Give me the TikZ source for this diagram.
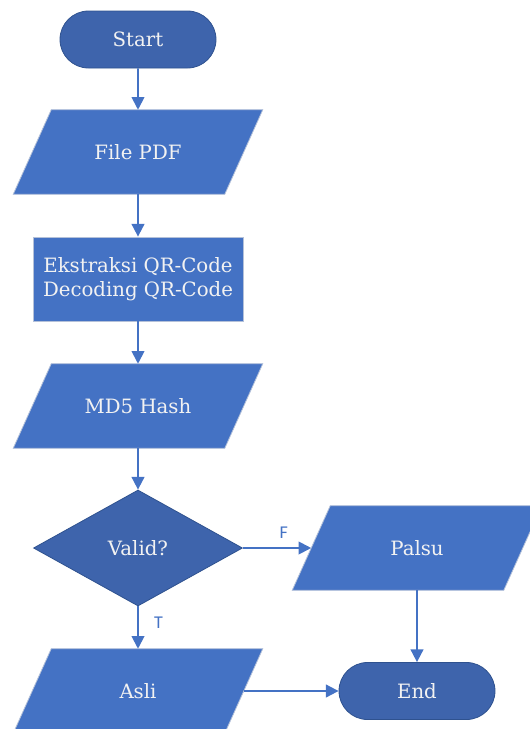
\documentclass[tikz,border=0pt]{standalone}
\usepackage{fontspec}
\setmainfont{DejaVu Serif}
\newfontfamily\labelfont{Carlito}
\usepackage{xcolor}
\usepackage{tikz}
\usetikzlibrary{shapes.geometric, shapes.misc, arrows.meta, backgrounds}

\definecolor{boxblue}{HTML}{4472C4}
\definecolor{termblue}{HTML}{3E64AC}
\definecolor{termline}{HTML}{2F528F}
\definecolor{boxline}{HTML}{B4C1D9}
\definecolor{boxtext}{HTML}{F2F2F2}

\begin{document}
\begin{tikzpicture}[x=0.75pt, y=-0.75pt, text=boxtext, font=\fontsize{14.8}{18}\selectfont,
		terminal/.style={rounded rectangle, draw=termline, fill=termblue, line width=0.6pt, minimum width=117pt, minimum height=42.75pt, inner sep=0pt},
		io/.style={rectangle, minimum width=158.25pt, minimum height=63pt, inner sep=0pt},
		iobox/.style={draw=boxline, fill=boxblue, line width=0.6pt},
		process/.style={rectangle, draw=boxline, fill=boxblue, line width=0.6pt, minimum width=157.5pt, minimum height=63pt, inner sep=0pt, align=center},
		decision/.style={diamond, draw=termline, fill=termblue, line width=0.6pt, minimum width=156.75pt, minimum height=87pt, inner sep=0pt},
		flow/.style={draw=boxblue, line width=1.4pt, -{Triangle[length=9.5pt, width=9.5pt]}},
		branch/.style={text=boxblue, font=\labelfont\fontsize{13.5}{15}\selectfont}]
	\useasboundingbox (0,0) rectangle (529,729);
	\node[terminal] (start) at (138,39.5) {Start};
	\node[io] (file) at (138,152) {File PDF};
	\node[process] (extract) at (138,279) {Ekstraksi QR-Code\\Decoding QR-Code};
	\node[io] (hash) at (138,406) {MD5 Hash};
	\node[decision] (valid) at (138,548) {Valid?};
	\node[io] (palsu) at (417,548) {Palsu};
	\node[io] (asli) at (138,691) {Asli};
	\node[terminal] (end) at (417,691) {End};
	% jajaran genjang input/output
	\begin{scope}[on background layer]
		\foreach \n in {file, hash, palsu, asli}
			\draw[iobox] ([xshift=14.25pt]\n.north west) -- ([xshift=14.25pt]\n.north east) -- ([xshift=-14.25pt]\n.south east) -- ([xshift=-14.25pt]\n.south west) -- cycle;
	\end{scope}
	% alur
	\draw[flow] (start) -- (file);
	\draw[flow] (file) -- (extract);
	\draw[flow] (extract) -- (hash);
	\draw[flow] (hash) -- (valid);
	\draw[flow] (valid.east) -- node[branch, above, xshift=5pt, yshift=3pt] (f) {F} (palsu.west);
	\draw[flow] (valid.south) -- node[branch, right, xshift=8pt, yshift=4pt] (t) {T} (asli.north);
	\draw[flow] (palsu.south) -- (end.north);
	\draw[flow] (asli.east) -- (end.west);
\end{tikzpicture}
\end{document}
